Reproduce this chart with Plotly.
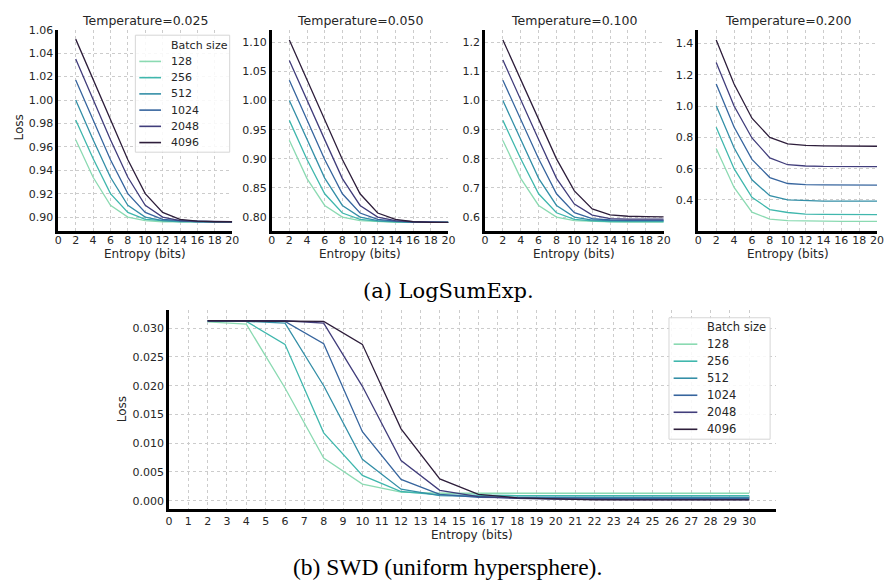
import plotly.graph_objects as go

W, H = 891, 582

batch_sizes = ["128", "256", "512", "1024", "2048", "4096"]
colors = ["#8bdab2", "#40b7ad", "#348fa7", "#37659e", "#413d7b", "#2e1e3b"]

x_top = [2, 4, 6, 8, 10, 12, 14, 16, 18, 20]
temperatures = ["0.025", "0.050", "0.100", "0.200"]

loss_t025 = [
    [0.966, 0.934, 0.910, 0.900, 0.897, 0.896, 0.896, 0.896, 0.896, 0.896],
    [0.983, 0.950, 0.920, 0.904, 0.898, 0.897, 0.896, 0.896, 0.896, 0.896],
    [1.000, 0.966, 0.934, 0.910, 0.900, 0.897, 0.8965, 0.896, 0.896, 0.896],
    [1.017, 0.983, 0.949, 0.920, 0.904, 0.898, 0.897, 0.896, 0.896, 0.896],
    [1.035, 1.000, 0.966, 0.934, 0.910, 0.900, 0.897, 0.8965, 0.896, 0.896],
    [1.052, 1.018, 0.983, 0.949, 0.920, 0.904, 0.898, 0.8965, 0.896, 0.896],
]
loss_t050 = [
    [0.932, 0.866, 0.820, 0.800, 0.794, 0.792, 0.791, 0.791, 0.791, 0.791],
    [0.966, 0.899, 0.840, 0.807, 0.796, 0.793, 0.792, 0.791, 0.791, 0.791],
    [1.000, 0.933, 0.867, 0.820, 0.800, 0.794, 0.792, 0.791, 0.791, 0.791],
    [1.035, 0.966, 0.899, 0.840, 0.807, 0.796, 0.793, 0.792, 0.791, 0.791],
    [1.069, 1.000, 0.933, 0.866, 0.820, 0.800, 0.794, 0.792, 0.791, 0.791],
    [1.104, 1.035, 0.966, 0.899, 0.840, 0.807, 0.796, 0.792, 0.791, 0.791],
]
loss_t100 = [
    [0.863, 0.733, 0.640, 0.600, 0.588, 0.585, 0.584, 0.583, 0.583, 0.583],
    [0.932, 0.800, 0.680, 0.615, 0.592, 0.587, 0.585, 0.585, 0.585, 0.585],
    [1.000, 0.866, 0.733, 0.640, 0.600, 0.590, 0.588, 0.587, 0.587, 0.587],
    [1.070, 0.932, 0.800, 0.680, 0.615, 0.595, 0.590, 0.589, 0.589, 0.589],
    [1.139, 1.000, 0.866, 0.733, 0.645, 0.607, 0.595, 0.593, 0.593, 0.593],
    [1.208, 1.070, 0.932, 0.800, 0.690, 0.628, 0.608, 0.603, 0.602, 0.601],
]
loss_t200 = [
    [0.728, 0.480, 0.322, 0.278, 0.268, 0.265, 0.264, 0.263, 0.263, 0.263],
    [0.865, 0.600, 0.417, 0.339, 0.320, 0.310, 0.308, 0.307, 0.307, 0.307],
    [1.002, 0.733, 0.529, 0.427, 0.400, 0.395, 0.393, 0.392, 0.392, 0.392],
    [1.141, 0.866, 0.659, 0.543, 0.505, 0.498, 0.496, 0.495, 0.495, 0.495],
    [1.278, 1.000, 0.796, 0.669, 0.625, 0.617, 0.614, 0.613, 0.613, 0.613],
    [1.421, 1.141, 0.922, 0.800, 0.758, 0.748, 0.745, 0.743, 0.743, 0.743],
]
top_losses = [loss_t025, loss_t050, loss_t100, loss_t200]

x_bottom = [2, 4, 6, 8, 10, 12, 14, 16, 18, 20, 22, 24, 26, 28, 30]
swd_loss = [
    [0.0311, 0.0307, 0.0196, 0.0074, 0.0029, 0.0015, 0.0013, 0.0013, 0.0013, 0.0013, 0.0013, 0.0013, 0.0013, 0.0013, 0.0013],
    [0.0312, 0.0312, 0.0272, 0.0118, 0.0044, 0.0016, 0.0010, 0.0009, 0.0009, 0.0009, 0.0009, 0.0009, 0.0009, 0.0009, 0.0009],
    [0.0312, 0.0312, 0.0309, 0.0200, 0.0072, 0.0020, 0.0009, 0.0007, 0.0006, 0.0006, 0.0006, 0.0006, 0.0006, 0.0006, 0.0006],
    [0.0313, 0.0313, 0.0312, 0.0273, 0.0120, 0.0037, 0.0011, 0.0006, 0.0005, 0.0004, 0.0004, 0.0004, 0.0004, 0.0004, 0.0004],
    [0.0313, 0.0313, 0.0313, 0.0309, 0.0199, 0.0070, 0.0018, 0.0007, 0.0004, 0.0003, 0.0002, 0.0002, 0.0002, 0.0002, 0.0002],
    [0.0313, 0.0313, 0.0313, 0.0312, 0.0272, 0.0125, 0.0038, 0.0011, 0.0005, 0.0003, 0.00015, 0.00015, 0.00015, 0.00015, 0.00015],
]

legend_title = "Batch size"

# ---------- layout geometry (pixels) ----------
def px_x(p):
    return p / W

def px_y(p):
    return 1 - p / H

top_x_px = [(55, 231), (271, 450), (487, 668), (703, 884)]
top_y_px = (24, 227)
top_ranges = [(0.8884, 1.06), (0.7767, 1.1216), (0.5535, 1.243), (0.204, 1.487)]
top_dticks = [0.02, 0.05, 0.1, 0.2]
top_tick0 = [0.90, 0.80, 0.6, 0.4]
top_fmt = [".2f", ".2f", ".1f", ".1f"]

bot_x_px = (167, 782)
bot_y_px = (307, 508)

FONT = "DejaVu Sans"
TXT = "#262626"
GRID = "#cccccc"

fig = go.Figure()
layout = dict(
    width=W, height=H,
    margin=dict(l=0, r=0, t=0, b=0),
    paper_bgcolor="white", plot_bgcolor="white",
    font=dict(family=FONT, color=TXT, size=11),
    showlegend=False,
)

annotations = []
shapes = []


def axis_common():
    return dict(
        showgrid=True, gridcolor=GRID, griddash="dot", gridwidth=1,
        showline=True, linecolor="black", linewidth=2.5, ticks="", zeroline=False,
        tickfont=dict(size=11, color=TXT),
    )


for i in range(4):
    xa = "xaxis" if i == 0 else f"xaxis{i+1}"
    ya = "yaxis" if i == 0 else f"yaxis{i+1}"
    xref = "x" if i == 0 else f"x{i+1}"
    yref = "y" if i == 0 else f"y{i+1}"
    x0, x1 = top_x_px[i]
    layout[xa] = dict(
        domain=[px_x(x0), px_x(x1)], range=[0, 20], anchor=yref,
        tick0=0, dtick=2, ticklabelstandoff=-3, **axis_common(),
    )
    layout[ya] = dict(
        domain=[px_y(top_y_px[1]), px_y(top_y_px[0])], range=list(top_ranges[i]),
        anchor=xref, tick0=top_tick0[i], dtick=top_dticks[i], tickformat=top_fmt[i],
        **axis_common(),
    )
    for j, bs in enumerate(batch_sizes):
        fig.add_trace(go.Scatter(
            x=x_top, y=top_losses[i][j], mode="lines", name=bs,
            line=dict(color=colors[j], width=1.3),
            xaxis=xref, yaxis=yref,
        ))
    cx = (x0 + x1) / 2
    annotations.append(dict(
        x=px_x(cx), y=px_y(15), xref="paper", yref="paper", showarrow=False,
        text=f"Temperature={temperatures[i]}", font=dict(size=12.5, color=TXT),
        xanchor="center", yanchor="middle",
    ))
    annotations.append(dict(
        x=px_x(cx), y=px_y(251), xref="paper", yref="paper", showarrow=False,
        text="Entropy (bits)", font=dict(size=12, color=TXT),
        xanchor="center", yanchor="middle",
    ))

annotations.append(dict(
    x=px_x(15), y=px_y(123), xref="paper", yref="paper", showarrow=False,
    text="Loss", textangle=-90, font=dict(size=12, color=TXT),
    xanchor="center", yanchor="middle",
))

# bottom panel
layout["xaxis5"] = dict(
    domain=[px_x(bot_x_px[0]), px_x(bot_x_px[1])], range=[0, 31.4], anchor="y5",
    tickmode="array", tickvals=list(range(0, 31)), **axis_common(),
)
layout["yaxis5"] = dict(
    domain=[px_y(bot_y_px[1]), px_y(bot_y_px[0])], range=[-0.0014, 0.0332], anchor="x5",
    tick0=0, dtick=0.005, tickformat=".3f", **axis_common(),
)
for j, bs in enumerate(batch_sizes):
    fig.add_trace(go.Scatter(
        x=x_bottom, y=swd_loss[j], mode="lines", name=bs,
        line=dict(color=colors[j], width=1.3),
        xaxis="x5", yaxis="y5",
    ))

annotations.append(dict(
    x=px_x(474), y=px_y(535), xref="paper", yref="paper", showarrow=False,
    text="Entropy (bits)", font=dict(size=12, color=TXT),
    xanchor="center", yanchor="middle",
))
annotations.append(dict(
    x=px_x(119), y=px_y(408), xref="paper", yref="paper", showarrow=False,
    text="Loss", textangle=-90, font=dict(size=12, color=TXT),
    xanchor="center", yanchor="middle",
))

# captions
annotations.append(dict(
    x=px_x(450), y=px_y(288), xref="paper", yref="paper", showarrow=False,
    text="(a) LogSumExp.", font=dict(family="DejaVu Serif", size=21, color="black"),
    xanchor="center", yanchor="middle",
))
annotations.append(dict(
    x=px_x(449), y=px_y(567), xref="paper", yref="paper", showarrow=False,
    text="(b) SWD (uniform hypersphere).", font=dict(family="Liberation Serif", size=23.5, color="black"),
    xanchor="center", yanchor="middle",
))


# ---------- legends drawn as legend boxes (paper coords) ----------
def add_legend(box, title_y, rows_y, line_x, text_x, fsize):
    bx0, by0, bx1, by1 = box
    shapes.append(dict(
        type="rect", xref="paper", yref="paper",
        x0=px_x(bx0), x1=px_x(bx1), y0=px_y(by1), y1=px_y(by0),
        line=dict(color="#d6d6d6", width=1), fillcolor="rgba(255,255,255,0.85)",
        layer="above",
    ))
    annotations.append(dict(
        x=px_x(text_x), y=px_y(title_y), xref="paper", yref="paper", showarrow=False,
        text=legend_title, font=dict(size=fsize, color=TXT),
        xanchor="left", yanchor="middle",
    ))
    for j, bs in enumerate(batch_sizes):
        yy = rows_y[j]
        shapes.append(dict(
            type="line", xref="paper", yref="paper",
            x0=px_x(line_x[0]), x1=px_x(line_x[1]), y0=px_y(yy), y1=px_y(yy),
            line=dict(color=colors[j], width=1.6), layer="above",
        ))
        annotations.append(dict(
            x=px_x(text_x), y=px_y(yy), xref="paper", yref="paper", showarrow=False,
            text=bs, font=dict(size=fsize, color=TXT),
            xanchor="left", yanchor="middle",
        ))


add_legend((133, 29.5, 228.5, 147.7), 39.5, [56, 72.4, 88.8, 105.2, 121.6, 138],
           (137, 159), 167, 11)
add_legend((673.3, 315, 775.7, 437.7), 324, [341.7, 358.9, 376.1, 393.3, 410.5, 427.7],
           (678, 702), 710, 11.5)

layout["annotations"] = annotations
layout["shapes"] = shapes

fig.update_layout(**layout)
fig.write_html(
    "out.html",
    config={"displayModeBar": False},
    post_script="document.body.style.margin='0';document.body.style.padding='0';",
)
